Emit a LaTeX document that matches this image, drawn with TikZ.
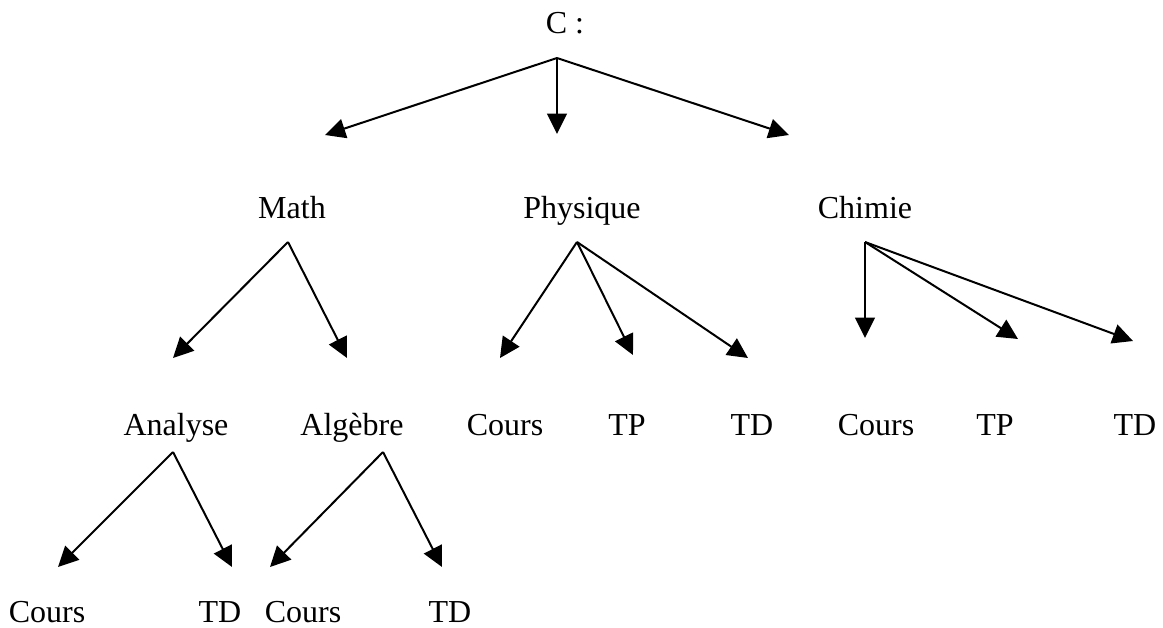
\documentclass[tikz,border=0pt]{standalone}
\usepackage{fontspec}
\setmainfont{Liberation Serif}
\usetikzlibrary{arrows.meta}
\tikzset{mot/.style={anchor=base, inner sep=0pt, font=\fontsize{12}{14}\selectfont}}
\tikzset{fleche/.style={-{Triangle[length=7.6pt,width=7.4pt]}, line width=0.75pt}}

\begin{document}
\begin{tikzpicture}[x=0.375pt, y=-0.375pt]
    		\useasboundingbox (0,0) rectangle (1163,628);
    		% textes
    		\node[mot] (c) at (565,33) {C :};
    		\foreach \name/\pos/\descr in {math/292/Math,phys/582/Physique,chim/865/Chimie}
        	{
        		\node[mot] (\name) at (\pos,218) {\descr};
        	}
    		\foreach \name/\pos/\descr in {ana/176/Analyse,alg/352/Algèbre,pc/505/Cours,ptp/627/TP,ptd/752/TD,cc/876/Cours,ctp/995/TP,ctd/1135/TD}
        	{
        		\node[mot] (\name) at (\pos,435) {\descr};
        	}
    		\foreach \name/\pos/\descr in {anc/47/Cours,antd/220/TD,alc/303/Cours,altd/450/TD}
        	{
        		\node[mot] (\name) at (\pos,622) {\descr};
        	}
    		% points des fleches
    		\coordinate (c-o) at (557,58);
    		\coordinate (math-o) at (288,242);
    		\coordinate (phys-o) at (577,242);
    		\coordinate (chim-o) at (865,242);
    		\coordinate (ana-o) at (173,452);
    		\coordinate (alg-o) at (383,452);
    		\coordinate (math-i) at (325,135);
    		\coordinate (phys-i) at (557,134);
    		\coordinate (chim-i) at (789,135);
    		\coordinate (ana-i) at (173,358);
    		\coordinate (alg-i) at (347,358);
    		\coordinate (pc-i) at (500,358);
    		\coordinate (ptp-i) at (633,355);
    		\coordinate (ptd-i) at (748,358);
    		\coordinate (cc-i) at (865,338);
    		\coordinate (ctp-i) at (1018,339);
    		\coordinate (ctd-i) at (1133,341);
    		\coordinate (anc-i) at (58,567);
    		\coordinate (antd-i) at (232,567);
    		\coordinate (alc-i) at (270,567);
    		\coordinate (altd-i) at (442,567);
    		% fleches
    		\foreach \src/\dst in {c/math,c/phys,c/chim,math/ana,math/alg,phys/pc,phys/ptp,phys/ptd,chim/cc,chim/ctp,chim/ctd,ana/anc,ana/antd,alg/alc,alg/altd}
        	{
        		\draw[fleche] (\src-o) -- (\dst-i);
        	}
		\end{tikzpicture}
\end{document}
